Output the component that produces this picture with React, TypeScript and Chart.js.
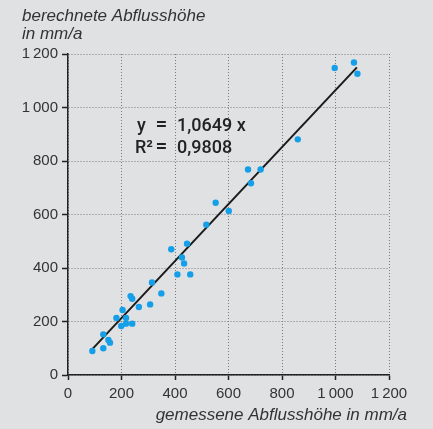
import React, { useEffect, useRef } from "react";
import { Chart, registerables } from "chart.js";

Chart.register(...registerables);

// measured (x) vs calculated (y) runoff height in mm/a
const measured = [91, 132, 132, 151, 157, 181, 199, 204, 217, 217, 240, 234, 240, 265, 307, 314, 349, 386, 409, 426, 434, 445, 457, 517, 552, 601, 684, 673, 720, 859, 997, 1069, 1082];
const calculated = [90, 100, 152, 131, 121, 213, 183, 243, 213, 192, 192, 295, 285, 254, 264, 346, 305, 470, 376, 439, 417, 491, 376, 562, 644, 613, 717, 768, 768, 881, 1148, 1168, 1126];

const fitSlope = 1.0649;
const fitSlopeText = "1,0649 x";
const fitR2Text = "0,9808";
const fitX = [90, 1080];

const tickValues = [0, 200, 400, 600, 800, 1000, 1200];
const tickLabels = ["0", "200", "400", "600", "800", "1\u2009000", "1\u2009200"];

const yTitle = ["berechnete Abflusshöhe", "in mm/a"];
const xTitle = "gemessene Abflusshöhe in mm/a";

const FONT = '"Liberation Sans", Arial, Helvetica, sans-serif';
const EQFONT = 'Roboto, "Liberation Sans", Arial, sans-serif';
const BG = "#e0e1e3";

const labelFor = (v: number) => {
  const i = tickValues.indexOf(Number(v));
  return i >= 0 ? tickLabels[i] : "";
};

export default function App() {
  const ref = useRef<HTMLCanvasElement | null>(null);

  useEffect(() => {
    document.body.style.margin = "0";
    const canvas = ref.current;
    if (!canvas) return;

    const textPlugin = {
      id: "texts",
      afterDraw(chart: any) {
        const ctx = chart.ctx;
        ctx.save();
        ctx.fillStyle = "#333";
        ctx.textBaseline = "alphabetic";
        ctx.font = `italic 17px ${FONT}`;
        ctx.textAlign = "left";
        ctx.fillText(yTitle[0], 22, 21);
        ctx.fillText(yTitle[1], 22, 39);
        ctx.textAlign = "right";
        ctx.fillText(xTitle, 407, 420);

        ctx.fillStyle = "#222";
        ctx.font = `500 18px ${EQFONT}`;
        ctx.textAlign = "left";
        ctx.fillText("y", 137, 131);
        ctx.fillText(fitSlopeText, 177, 131);
        ctx.fillText("R\u00B2", 135, 153);
        ctx.fillText(fitR2Text, 177, 153);
        ctx.textAlign = "center";
        ctx.font = `500 21px ${EQFONT}`;
        ctx.fillText("=", 161.5, 131);
        ctx.fillText("=", 161.5, 153);
        ctx.restore();
      },
    };

    const axisCommon = (isX: boolean) => ({
      type: "linear" as const,
      min: 0,
      max: 1200,
      ticks: {
        stepSize: 200,
        color: "#333",
        font: { family: FONT, size: 15 },
        padding: isX ? 5 : 4,
        maxRotation: 0,
        autoSkip: false,
        callback: (v: any) => labelFor(v),
      },
      grid: {
        color: "#7a7a7a",
        lineWidth: 1,
        tickColor: "#222",
        tickWidth: 1.5,
        tickLength: isX ? 5 : 6,
        drawTicks: true,
      },
      border: { display: true, color: "#222", width: 1.5, dash: [1, 2] },
      afterFit: (s: any) => {
        if (isX) s.height = 54;
        else s.width = 68;
      },
    });

    const chart = new Chart(canvas, {
      type: "scatter",
      data: {
        datasets: [
          {
            type: "scatter",
            data: measured.map((x, i) => ({ x, y: calculated[i] })),
            backgroundColor: "#159fe8",
            borderColor: "#159fe8",
            pointRadius: 3.2,
            pointBorderWidth: 0,
          },
          {
            type: "line",
            data: fitX.map((x) => ({ x, y: fitSlope * x })),
            borderColor: "#1a1a1a",
            borderWidth: 2,
            pointRadius: 0,
            showLine: true,
            fill: false,
          },
        ],
      },
      options: {
        animation: false,
        responsive: false,
        devicePixelRatio: 1,
        layout: { padding: { left: 0, top: 54, right: 44, bottom: 0 } },
        plugins: { legend: { display: false }, tooltip: { enabled: false } },
        scales: {
          x: axisCommon(true),
          y: axisCommon(false),
        },
      } as any,
      plugins: [textPlugin],
    });

    return () => chart.destroy();
  }, []);

  return (
    <div style={{ position: "fixed", left: 0, top: 0, width: 433, height: 429, background: BG }}>
      <canvas ref={ref} width={433} height={429} style={{ display: "block" }} />
    </div>
  );
}
